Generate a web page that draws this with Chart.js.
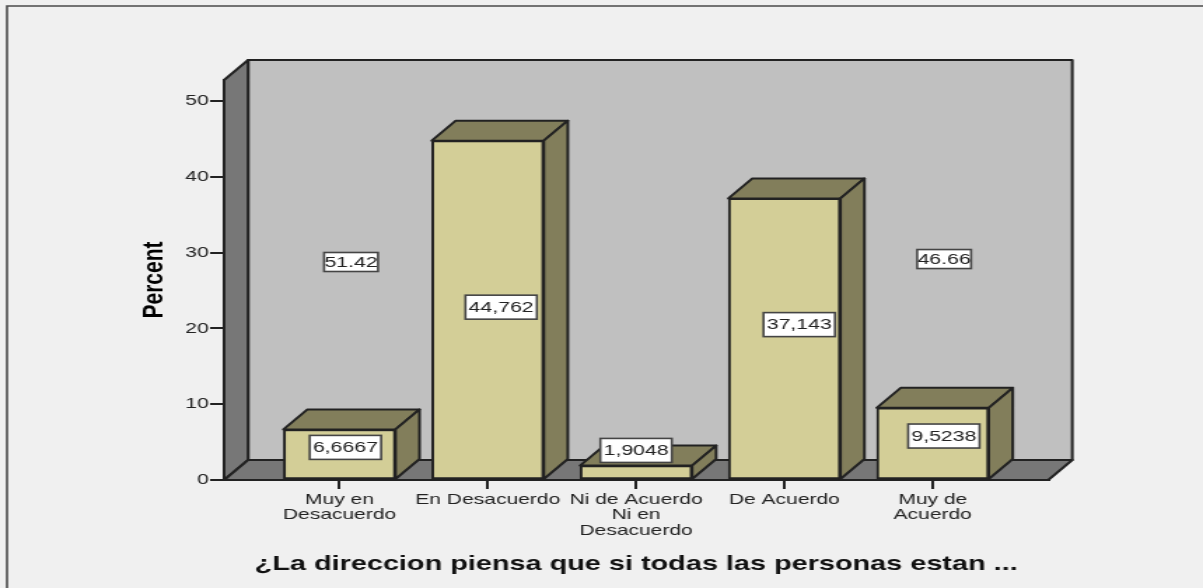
<!DOCTYPE html>
<html>
<head>
<meta charset="utf-8">
<style>
html,body{margin:0;padding:0;background:#f0f0f0;overflow:hidden}
canvas{display:block;width:1203px;height:588px}
</style>
<script src="https://cdn.jsdelivr.net/npm/chart.js@4"></script>
</head>
<body>
<canvas id="c" width="859" height="588" style="width:1203px;height:588px"></canvas>
<script>
const categories = [["Muy en","Desacuerdo"],"En Desacuerdo",["Ni de Acuerdo","Ni en","Desacuerdo"],"De Acuerdo",["Muy de","Acuerdo"]];
const percentValues = [6.6667, 44.762, 1.9048, 37.143, 9.5238];
const valueLabels = ["6,6667","44,762","1,9048","37,143","9,5238"];
const labelAnchorX = [0.04, 0.09, 0, 0.10, 0.075];
const labelAnchorY = [4.3, 22.8, 3.9, 20.5, 5.8];
const strayLabels = ["51.42","46.66"];
const strayAnchorX = [0.078, 4.077];
const strayAnchorY = [28.76, 29.15];
const yTicks = [0,10,20,30,40,50];

const S = 1203/859, DX = 24/S, DY = 20;
const INK = '#222222', WALL = '#777777', BACK = '#c0c0c0', FRONT = '#d3ce97', SHADE = '#827e5b', PAGE = '#f0f0f0';

function poly(ctx, pts, fill){
  ctx.beginPath();
  pts.forEach((p,i)=> i? ctx.lineTo(p[0],p[1]) : ctx.moveTo(p[0],p[1]));
  ctx.closePath();
  ctx.fillStyle = fill; ctx.fill();
  ctx.strokeStyle = INK; ctx.lineWidth = 2; ctx.lineJoin='round'; ctx.stroke();
}
function box(ctx, text, cx, cy, w, h, lw){
  ctx.save();
  ctx.fillStyle = '#fff'; ctx.strokeStyle = '#444'; ctx.lineWidth = lw;
  ctx.fillRect(cx-w/2, cy-h/2, w, h); ctx.strokeRect(cx-w/2, cy-h/2, w, h);
  ctx.fillStyle = '#222'; ctx.font = '15.2px "Liberation Sans"';
  ctx.textAlign='center'; ctx.textBaseline='middle';
  ctx.fillText(text, cx, cy+0.5);
  ctx.restore();
}
const scene = {
  id:'scene',
  beforeDraw(chart){
    const {ctx, chartArea:a} = chart;
    ctx.save();
    ctx.fillStyle = PAGE; ctx.fillRect(0,0,chart.width,chart.height);
    ctx.strokeStyle='#4a4a4a'; ctx.lineWidth=1.6;
    ctx.beginPath(); ctx.moveTo(5,chart.height); ctx.lineTo(5,6); ctx.lineTo(chart.width,6); ctx.stroke();
    poly(ctx,[[a.left+DX,a.top-DY],[a.right+DX,a.top-DY],[a.right+DX,a.bottom-DY],[a.left+DX,a.bottom-DY]],BACK);
    poly(ctx,[[a.left,a.top],[a.left+DX,a.top-DY],[a.left+DX,a.bottom-DY],[a.left,a.bottom]],WALL);
    poly(ctx,[[a.left,a.bottom],[a.left+DX,a.bottom-DY],[a.right+DX,a.bottom-DY],[a.right,a.bottom]],WALL);
    ctx.restore();
  },
  beforeDatasetsDraw(chart){
    const ctx = chart.ctx;
    ctx.save();
    chart.getDatasetMeta(0).data.forEach(b=>{
      const l=b.x-b.width/2, r=b.x+b.width/2, t=b.y, bt=b.base;
      poly(ctx,[[l,t],[l+DX,t-DY],[r+DX,t-DY],[r,t]],SHADE);
      poly(ctx,[[r,t],[r+DX,t-DY],[r+DX,bt-DY],[r,bt]],SHADE);
    });
    ctx.restore();
  },
  afterDatasetsDraw(chart){
    const {ctx, scales:{x,y}} = chart;
    valueLabels.forEach((t,i)=> box(ctx,t,x.getPixelForValue(i+labelAnchorX[i]),y.getPixelForValue(labelAnchorY[i]),51,24,1.6));
    strayLabels.forEach((t,i)=> box(ctx,t,x.getPixelForValue(strayAnchorX[i]),y.getPixelForValue(strayAnchorY[i]),38.5,19,1.6));
  }
};
new Chart(document.getElementById('c'),{
  type:'bar',
  data:{datasets:[{
    data:percentValues.map((v,i)=>({x:i,y:v})),
    backgroundColor:FRONT, borderColor:INK, borderWidth:2, borderSkipped:false, barThickness:80
  }]},
  options:{
    responsive:false, animation:false, devicePixelRatio:1,
    layout:{padding:{left:97.5,right:110.5,top:80,bottom:0}},
    plugins:{legend:{display:false},tooltip:{enabled:false}},
    scales:{
      x:{
        type:'linear', min:-0.778, max:4.779, offset:false,
        afterFit(s){s.height=108;},
        afterBuildTicks(s){s.ticks=categories.map((_,i)=>({value:i}));},
        grid:{display:true,offset:false,drawOnChartArea:false,drawTicks:true,tickLength:9,color:INK,lineWidth:2,tickWidth:2},
        border:{display:true,color:INK,width:2},
        ticks:{autoSkip:false,maxRotation:0,minRotation:0,padding:3,color:'#222',
          font:{family:'"Liberation Sans"',size:15,lineHeight:1.03},
          callback:(v)=>categories[v]},
        title:{display:true,text:'¿La direccion piensa que si todas las personas estan ...',color:'#111',
          font:{family:'"Liberation Sans"',size:20.6,weight:'bold'},padding:{top:0,bottom:11}}
      },
      y:{
        type:'linear', min:0, max:52.77,
        afterFit(s){s.width=62.5;},
        afterBuildTicks(s){s.ticks=yTicks.map(v=>({value:v}));},
        grid:{display:true,drawOnChartArea:false,drawTicks:true,tickLength:10,color:INK,lineWidth:2,tickWidth:2},
        border:{display:true,color:INK,width:2},
        ticks:{padding:1,color:'#222',font:{family:'"Liberation Sans"',size:15}},
        title:{display:true,text:'Percent',color:'#000',
          font:{family:'"Liberation Sans"',size:21,weight:'bold'},padding:{top:0,bottom:0}}
      }
    }
  },
  plugins:[scene]
});
</script>
</body>
</html>
